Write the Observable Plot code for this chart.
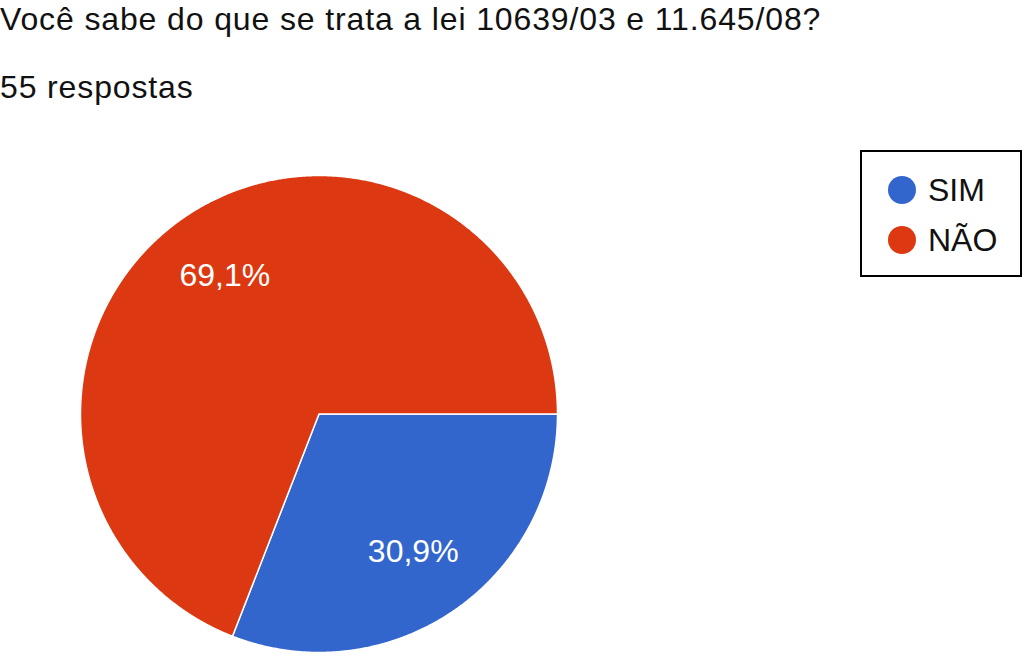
<!DOCTYPE html>
<html><head><meta charset="utf-8">
<script src="https://cdn.jsdelivr.net/npm/d3@7"></script>
<script src="https://cdn.jsdelivr.net/npm/@observablehq/plot@0.6"></script>
<style>
html,body{margin:0;padding:0;background:#fff;}
body{font-family:"Liberation Sans",Arial,Helvetica,sans-serif;color:#111;}
#wrap{position:relative;width:1024px;height:658px;overflow:hidden;}
#chart{position:absolute;left:0;top:0;}
.t{position:absolute;left:0;white-space:nowrap;line-height:1;font-size:32px;letter-spacing:0.87px;}
#title{top:2.5px;}
#sub{top:71px;}
#legend{position:absolute;left:860px;top:150px;width:158px;height:123px;border:2px solid #000;box-sizing:content-box;}
.item{position:absolute;left:0;height:32px;line-height:32px;font-size:32px;white-space:nowrap;}
.sw{position:absolute;left:26px;top:2px;width:28px;height:28px;border-radius:50%;}
.lb{position:absolute;left:66px;top:0;}
</style></head><body>
<div id="wrap">
  <div id="chart"></div>
  <div id="title" class="t"></div>
  <div id="sub" class="t"></div>
  <div id="legend"></div>
</div>
<script>
const title = "Você sabe do que se trata a lei 10639/03 e 11.645/08?";
const subtitle = "55 respostas";
const categories = ["SIM", "NÃO"];
const counts = [17, 38];
const colors = ["#3366cc", "#dc3912"];

document.getElementById("title").textContent = title;
document.getElementById("sub").textContent = subtitle;

const W = 1024, H = 658;
const cx = 318.5, cy = 413.5, R = 238.5;

const data = categories.map((c, i) => ({category: c, count: counts[i]}));
const total = d3.sum(counts);
const arcs = d3.pie().value(d => d.count).sort(null)
  .startAngle(Math.PI / 2).endAngle(Math.PI / 2 + 2 * Math.PI)(data);

// polygon vertices for each slice (unit radius, y up)
const verts = [];
for (const a of arcs) {
  const n = Math.max(2, Math.ceil((a.endAngle - a.startAngle) / 0.005));
  verts.push({category: a.data.category, x: 0, y: 0});
  for (let k = 0; k <= n; k++) {
    const t = a.startAngle + (a.endAngle - a.startAngle) * k / n;
    verts.push({category: a.data.category, x: Math.sin(t), y: Math.cos(t)});
  }
  verts.push({category: a.data.category, x: 0, y: 0});
}

const fmt = v => (Math.round(v * 1000) / 10).toFixed(1).replace(".", ",") + "%";
const labels = arcs.map(a => {
  const m = (a.startAngle + a.endAngle) / 2;
  return {category: a.data.category, x: 0.70 * Math.sin(m), y: 0.70 * Math.cos(m), text: fmt(a.data.count / total)};
});

const plot = Plot.plot({
  width: W, height: H,
  margin: 0,
  x: {domain: [-cx / R, (W - cx) / R], axis: null},
  y: {domain: [-(H - cy) / R, cy / R], axis: null},
  color: {domain: categories, range: colors, legend: false},
  style: {background: "transparent", fontFamily: "'Liberation Sans', Arial, sans-serif"},
  marks: [
    Plot.line(verts, {x: "x", y: "y", z: "category", fill: "category", stroke: "white", strokeWidth: 1.5, strokeLinejoin: "round"}),
    Plot.text(labels, {x: "x", y: "y", text: "text", fill: "white", fontSize: 32, fontFamily: "'Liberation Sans', Arial, sans-serif"})
  ]
});
document.getElementById("chart").appendChild(plot);

const color = plot.scale("color");
const legend = document.getElementById("legend");
categories.forEach((c, i) => {
  const it = document.createElement("div");
  it.className = "item";
  it.style.top = (22 + i * 50) + "px";
  const sw = document.createElement("div");
  sw.className = "sw";
  sw.style.background = color.apply(c);
  const lb = document.createElement("div");
  lb.className = "lb";
  lb.textContent = c;
  it.appendChild(sw); it.appendChild(lb);
  legend.appendChild(it);
});
</script>
</body></html>
